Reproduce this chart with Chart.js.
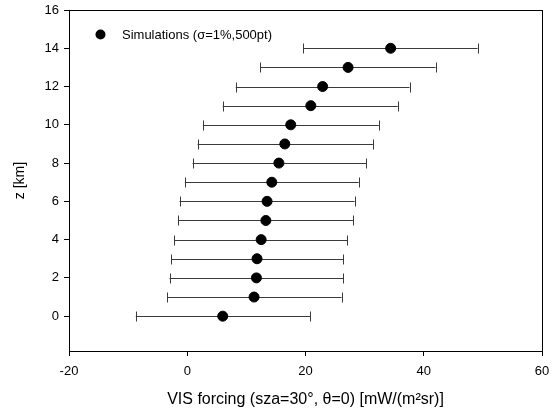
<!DOCTYPE html>
<html>
<head>
<meta charset="utf-8">
<script src="https://cdn.jsdelivr.net/npm/chart.js@4.4.0/dist/chart.umd.min.js"></script>
<style>
  body { margin: 0; background: #fff; }
  #wrap { width: 552px; height: 412px; }
</style>
</head>
<body>
<div id="wrap"><canvas id="chart" width="552" height="412"></canvas></div>
<script>
// altitude levels (km)
const altitudes = [0, 1, 2, 3, 4, 5, 6, 7, 8, 9, 10, 11, 12, 13, 14];
// simulated VIS forcing, mean value
const forcing = [6.0, 11.3, 11.7, 11.8, 12.5, 13.3, 13.5, 14.3, 15.5, 16.5, 17.5, 20.9, 22.9, 27.2, 34.4];
// error bar ends
const forcingLow = [-8.7, -3.4, -3.0, -2.7, -2.2, -1.5, -1.3, -0.4, 0.9, 1.75, 2.65, 6.0, 8.2, 12.35, 19.6];
const forcingHigh = [20.8, 26.1, 26.4, 26.4, 27.1, 28.1, 28.3, 29.0, 30.3, 31.4, 32.4, 35.6, 37.6, 42.0, 49.1];
const xTicks = [-20, 0, 20, 40, 60];
const yTicks = [0, 2, 4, 6, 8, 10, 12, 14, 16];
const seriesLabel = 'Simulations (\u03c3=1%,500pt)';

const FONT = "'Liberation Sans', Arial, sans-serif";

// horizontal error bars + frame + legend
const extras = {
  id: 'extras',
  beforeDatasetsDraw(chart) {
    const ctx = chart.ctx;
    const xs = chart.scales.x, ys = chart.scales.y;
    ctx.save();
    ctx.strokeStyle = '#3a3a3a';
    ctx.lineWidth = 1;
    for (let i = 0; i < altitudes.length; i++) {
      const y = Math.round(ys.getPixelForValue(altitudes[i])) + 0.5;
      const x1 = xs.getPixelForValue(forcingLow[i]);
      const x2 = xs.getPixelForValue(forcingHigh[i]);
      ctx.beginPath();
      ctx.moveTo(x1, y); ctx.lineTo(x2, y);
      ctx.moveTo(Math.round(x1) + 0.5, y - 5); ctx.lineTo(Math.round(x1) + 0.5, y + 5);
      ctx.moveTo(Math.round(x2) + 0.5, y - 5); ctx.lineTo(Math.round(x2) + 0.5, y + 5);
      ctx.stroke();
    }
    ctx.restore();
  },
  afterDraw(chart) {
    const ctx = chart.ctx;
    const a = chart.chartArea;
    ctx.save();
    ctx.strokeStyle = '#000';
    ctx.lineWidth = 1;
    ctx.strokeRect(Math.round(a.left) + 0.5, Math.round(a.top) + 0.5,
      Math.round(a.right - a.left), Math.round(a.bottom - a.top));
    // legend
    ctx.fillStyle = '#000';
    ctx.beginPath();
    ctx.arc(100.5, 34.5, 5, 0, Math.PI * 2);
    ctx.fill();
    ctx.font = '13px ' + FONT;
    ctx.textBaseline = 'middle';
    ctx.fillText(chart.data.datasets[0].label, 122, 35);
    ctx.restore();
  }
};

new Chart(document.getElementById('chart'), {
  type: 'scatter',
  data: {
    datasets: [{
      label: seriesLabel,
      data: altitudes.map((z, i) => ({ x: forcing[i], y: z })),
      backgroundColor: '#000',
      borderColor: '#000',
      pointRadius: 5,
      pointHoverRadius: 5
    }]
  },
  options: {
    responsive: false,
    animation: false,
    layout: { padding: { top: 10, right: 10, left: 0, bottom: 0 } },
    plugins: { legend: { display: false }, tooltip: { enabled: false } },
    scales: {
      x: {
        type: 'linear',
        min: -20, max: 60,
        afterBuildTicks: s => { s.ticks = xTicks.map(v => ({ value: v })); },
        afterFit: s => { s.height = 61; s.paddingLeft = 0; s.paddingRight = 0; },
        grid: { drawOnChartArea: false, tickLength: 5, color: '#000' },
        border: { color: '#000' },
        ticks: { color: '#000', padding: 8, maxRotation: 0, font: { family: FONT, size: 13 } },
        title: {
          display: true,
          text: 'VIS forcing (sza=30\u00b0, \u03b8=0) [mW/(m\u00b2sr)]',
          color: '#000',
          font: { family: FONT, size: 16 },
          padding: { top: 0, bottom: 3 }
        }
      },
      y: {
        type: 'linear',
        min: -1.82, max: 16,
        afterBuildTicks: s => { s.ticks = yTicks.map(v => ({ value: v })); },
        afterFit: s => { s.width = 69; s.paddingTop = 0; s.paddingBottom = 0; },
        grid: { drawOnChartArea: false, tickLength: 5, color: '#000' },
        border: { color: '#000' },
        ticks: { color: '#000', padding: 5, font: { family: FONT, size: 13 } },
        title: {
          display: true,
          text: 'z [km]',
          color: '#000',
          font: { family: FONT, size: 14 },
          padding: { top: 12, bottom: 0 }
        }
      }
    }
  },
  plugins: [extras]
});
</script>
</body>
</html>
